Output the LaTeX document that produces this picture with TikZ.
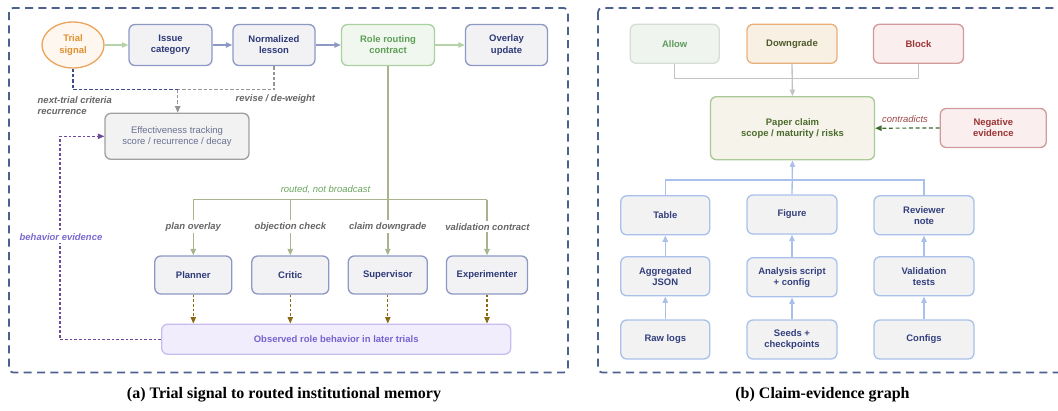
\documentclass[tikz,border=0pt]{standalone}
\usepackage{fontspec}
\setmainfont{Liberation Sans}
\newfontfamily\capfont{Liberation Serif}
\usetikzlibrary{arrows.meta,shapes.geometric}
\definecolor{panelC}{HTML}{4C6190}
\definecolor{navy}{HTML}{2E3A78}
\definecolor{nbS}{HTML}{8D98C4}
\definecolor{nbF}{HTML}{F2F2F5}
\definecolor{orS}{HTML}{E9A65C}
\definecolor{orF}{HTML}{FEF7EF}
\definecolor{orT}{HTML}{E0902F}
\definecolor{grS}{HTML}{A9D0A0}
\definecolor{grF}{HTML}{F0F7EE}
\definecolor{grT}{HTML}{5E9E58}
\definecolor{grA}{HTML}{B6D2A8}
\definecolor{routeC}{HTML}{A7B48E}
\definecolor{dkB}{HTML}{3D4F8A}
\definecolor{lblG}{HTML}{666666}
\definecolor{effT}{HTML}{6B7194}
\definecolor{effS}{HTML}{A0A0A0}
\definecolor{purpC}{HTML}{6B4C9A}
\definecolor{purpT}{HTML}{7B6AD0}
\definecolor{brownC}{HTML}{8B6914}
\definecolor{obsF}{HTML}{F1EDFC}
\definecolor{obsS}{HTML}{C8BDF0}
\definecolor{obsT}{HTML}{7663CF}
\definecolor{routeT}{HTML}{6AA55E}
\definecolor{alF}{HTML}{EFF5EE}
\definecolor{alS}{HTML}{D5DDD5}
\definecolor{alT}{HTML}{5E9A5E}
\definecolor{dgF}{HTML}{F8F0E3}
\definecolor{dgS}{HTML}{E8B07A}
\definecolor{dgT}{HTML}{4E5A2C}
\definecolor{rdF}{HTML}{FAEEEE}
\definecolor{rdS}{HTML}{D29A9A}
\definecolor{rdT}{HTML}{9B3434}
\definecolor{clF}{HTML}{F6F3EA}
\definecolor{clS}{HTML}{A9C996}
\definecolor{clT}{HTML}{4B6B2D}
\definecolor{gyC}{HTML}{C4C4C4}
\definecolor{ctT}{HTML}{A04848}
\definecolor{ngA}{HTML}{3F6A2E}
\definecolor{bxF}{HTML}{F2F2F2}
\definecolor{bxS}{HTML}{A9C1EA}
\definecolor{bxT}{HTML}{333F7E}
\newcommand{\fs}{\fontsize{7.1pt}{8.4pt}\selectfont}
\tikzset{
  wh/.style 2 args={minimum width={#1*0.75pt}, minimum height={#2*0.75pt}},
  base/.style={rectangle, rounded corners=4.5pt, line width=1pt, align=center, inner sep=0pt, font=\bfseries\fs},
  lnode/.style={base, draw=nbS, fill=nbF, text=navy},
  bnode/.style={base, draw=bxS, fill=bxF, text=bxT},
  panel/.style={draw=panelC, line width=1.3pt, dash pattern=on 6pt off 4pt, rounded corners=3pt},
  tip/.style={-{Triangle[length=4.8pt,width=4pt]}},
  lbl/.style={font=\bfseries\itshape\fs, text=lblG},
}
\begin{document}
\begin{tikzpicture}[x=0.75pt,y=-0.75pt]
\useasboundingbox (0,0) rectangle (1058,411);
% panels
\draw[panel] (9,8) rectangle (568,372.5);
\draw[panel] (598,8) rectangle (1066,372.5);

% ---------- left panel ----------
\node[ellipse, draw=orS, fill=orF, line width=1pt, wh={62}{46}, inner sep=0pt, align=center, font=\bfseries\fs, text=orT] (trial) at (73,45) {Trial\\signal};
\node[lnode, wh={83}{41}] (issue) at (170.5,45) {Issue\\category};
\node[lnode, wh={82}{41}] (lesson) at (274,45) {Normalized\\lesson};
\node[base, draw=grS, fill=grF, text=grT, wh={93}{41}] (role) at (388,45) {Role routing\\contract};
\node[lnode, wh={82}{41}] (overlay) at (506.5,45) {Overlay\\update};
\node[base, draw=effS, fill=bxF, text=effT, font=\fs, wh={144}{46}] (eff) at (177,136.3) {Effectiveness tracking\\score / recurrence / decay};
\node[lnode, wh={77}{38}] (planner) at (193.3,275) {Planner};
\node[lnode, wh={77}{38}] (critic) at (290.3,275) {Critic};
\node[lnode, wh={79}{38}] (super) at (387.8,275) {Supervisor};
\node[lnode, wh={81}{38}] (exper) at (487,275) {Experimenter};
\node[base, draw=obsS, fill=obsF, text=obsT, wh={349}{30}] (obs) at (336.2,339.2) {Observed role behavior in later trials};

\draw[tip, grA, line width=0.9pt] (trial) -- (issue);
\draw[tip, nbS, line width=0.9pt] (issue) -- (lesson);
\draw[tip, nbS, line width=0.9pt] (lesson) -- (role);
\draw[tip, grA, line width=0.9pt] (role) -- (overlay);

\coordinate (join) at (177.7,89.7);
\draw[dkB, line width=0.8pt, dash pattern=on 2.5pt off 1.5pt] (trial.south) |- (join);
\draw[lblG!70, line width=0.8pt, dash pattern=on 2.5pt off 1.5pt] (lesson.south) |- (join);
\draw[tip, lblG!70, line width=0.8pt, dash pattern=on 2.5pt off 1.5pt] (join) -- (join |- eff.north);
\node[lbl, anchor=west, align=left] (ntc) at (33,105.8) {next-trial criteria\\recurrence};
\node[lbl, anchor=west] (rdw) at (231,99) {revise / de-weight};

% routing
\coordinate (hub) at (388,199.5);
\draw[routeC, line width=1.1pt] (role.south) -- (hub);
\draw[routeC, line width=1.1pt] (planner.north |- hub) -- (exper.north |- hub);
\foreach \n in {planner,critic,super,exper}{
  \draw[tip, routeC, line width=1.1pt] (\n.north |- hub) -- (\n.north);
  \draw[tip, brownC, line width=0.8pt, dash pattern=on 2pt off 1.5pt] (\n.south) -- (\n.south |- obs.north);
}
\node[font=\itshape\fs, text=routeT] (rnb) at (325.5,189.3) {routed, not broadcast};
\node[lbl, fill=white, inner sep=1.5pt] (l1) at (193.3,226.7) {plan overlay};
\node[lbl, fill=white, inner sep=1.5pt] (l2) at (290.3,226.7) {objection check};
\node[lbl, fill=white, inner sep=1.5pt] (l3) at (387.8,226.7) {claim downgrade};
\node[lbl, fill=white, inner sep=1.5pt] (l4) at (487.5,226.7) {validation contract};

% behavior evidence
\coordinate (bend) at (60,339.2);
\draw[tip, purpC, line width=0.8pt, dash pattern=on 2pt off 1.5pt] (obs.west) -- (bend) |- (eff.west);
\node[font=\bfseries\itshape\fs, text=purpT, fill=white, inner sep=2pt] (bev) at (61,236.7) {behavior evidence};

% ---------- right panel ----------
\node[base, draw=alS, fill=alF, text=alT, wh={89}{39}] (allow) at (674.7,43.8) {Allow};
\node[base, draw=dgS, fill=dgF, text=dgT, wh={90}{39}] (down) at (792,43.8) {Downgrade};
\node[base, draw=rdS, fill=rdF, text=rdT, wh={90}{39}] (block) at (918.5,43.8) {Block};
\node[base, draw=clS, fill=clF, text=clT, wh={164}{63}] (claim) at (792.5,128.2) {Paper claim\\scope / maturity / risks};
\node[base, draw=rdS, fill=rdF, text=rdT, wh={106}{39}] (neg) at (993.3,128) {Negative\\evidence};
\node[bnode, wh={89}{39}] (table) at (665.3,215.3) {Table};
\node[bnode, wh={90}{39}] (figure) at (792,214.5) {Figure};
\node[bnode, wh={100}{39}] (review) at (924,215.3) {Reviewer\\note};
\node[bnode, wh={89}{39}] (json) at (665.3,276.3) {Aggregated\\JSON};
\node[bnode, wh={90}{39}] (analysis) at (792,277.3) {Analysis script\\+ config};
\node[bnode, wh={100}{39}] (valid) at (924,276.3) {Validation\\tests};
\node[bnode, wh={89}{39}] (raw) at (665.3,339.5) {Raw logs};
\node[bnode, wh={90}{39}] (seeds) at (792,339.5) {Seeds +\\checkpoints};
\node[bnode, wh={100}{39}] (configs) at (924,339.5) {Configs};

\coordinate (gy) at (792,78.7);
\draw[gyC, line width=1pt] (allow.south) |- (gy) -| (block.south);
\draw[tip, gyC, line width=1pt] (down.south) -- (claim.north);

\coordinate (by) at (792,180);
\draw[bxS, line width=1pt] (table.north) |- (by) -| (review.north);
\draw[tip, bxS, line width=1pt] (figure.north) -- (claim.south);
\draw[tip, bxS, line width=1pt] (json) -- (table);
\draw[tip, bxS, line width=1pt] (raw) -- (json);
\draw[tip, bxS, line width=1pt] (analysis) -- (figure);
\draw[tip, bxS, line width=1pt] (seeds) -- (analysis);
\draw[tip, bxS, line width=1pt] (valid) -- (review);
\draw[tip, bxS, line width=1pt] (configs) -- (valid);

\draw[tip, ngA, line width=0.9pt, dash pattern=on 3pt off 2pt] (neg.west) -- (claim.east);
\node[font=\itshape\fs, text=ctT] (ctr) at (905,119) {contradicts};

% captions
\node[font=\capfont\bfseries\fontsize{12pt}{13.5pt}\selectfont] (capa) at (284,394.5) {(a) Trial signal to routed institutional memory};
\node[font=\capfont\bfseries\fontsize{12pt}{13.5pt}\selectfont] (capb) at (822.5,394.5) {(b) Claim-evidence graph};
\end{tikzpicture}
\end{document}
